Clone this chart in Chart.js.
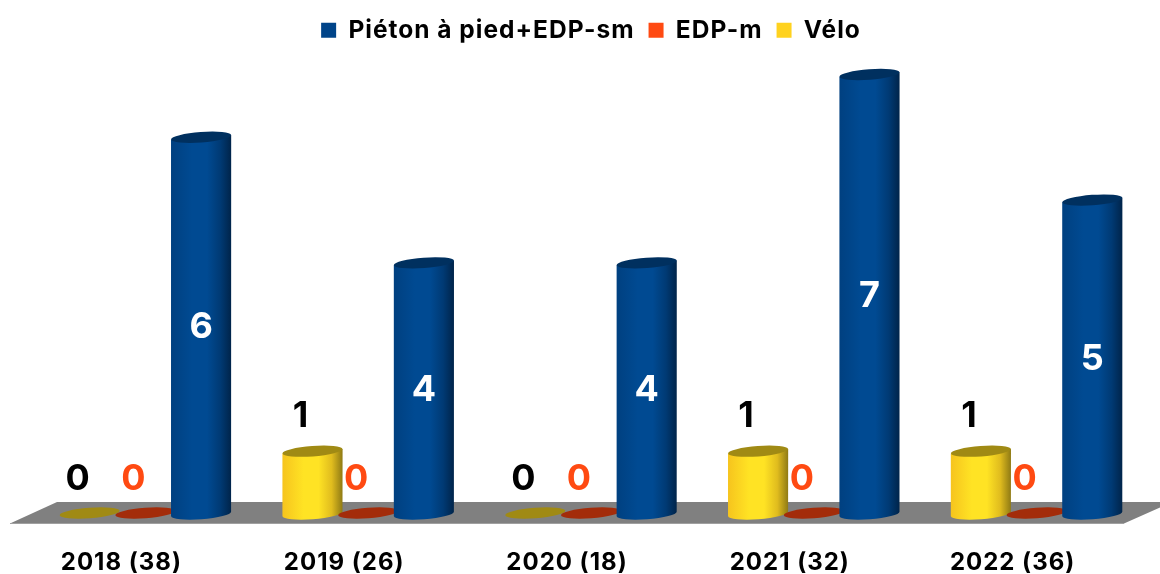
<!DOCTYPE html>
<html><head><meta charset="utf-8">
<script src="https://cdn.jsdelivr.net/npm/chart.js@4"></script>
<style>html,body{margin:0;padding:0;background:#fff;overflow:hidden}#w{position:relative;width:1160px;height:574px}</style>
</head><body><div id="w"><canvas id="c" width="1160" height="574"></canvas></div>
<script>
const categories = ["2018 (38)","2019 (26)","2020 (18)","2021 (32)","2022 (36)"];
const veloValues = [0,1,0,1,1];
const edpmValues = [0,0,0,0,0];
const pietonValues = [6,4,4,7,5];
const FONT = 'Inter, sans-serif';

const palette = [
  {side:['#f6c41e','#ffe324','#ffe324','#e0bc1e','#8f7a14'], top:'#a08a14', label:'#000000'},
  {side:['#e8400f','#ff4a12','#ff4a12','#c93a0d','#7d2508'], top:'#a32c0a', label:'#ff4a12'},
  {side:['#004080','#004a92','#004a92','#003a74','#00244a'], top:'#00305f', label:'#ffffff'}
];
const TILT = -0.075, RY = 5.2;

function ellipse(ctx,x,y,rx,fill){
  ctx.beginPath();ctx.ellipse(x,y,rx,RY,TILT,0,Math.PI*2);ctx.fillStyle=fill;ctx.fill();
}
function cylinder(ctx,el,pal){
  const rx=el.width/2,x=el.x,top=el.y,base=el.base;
  if(base-top<1){ ellipse(ctx,x,base-1,rx,pal.top); return; }
  const g=ctx.createLinearGradient(x-rx,0,x+rx,0);
  [0,0.35,0.6,0.82,1].forEach((s,i)=>g.addColorStop(s,pal.side[i]));
  const dy=rx*Math.tan(TILT);
  ctx.beginPath();
  ctx.moveTo(x-rx,top-dy);
  ctx.lineTo(x-rx,base-dy);
  ctx.ellipse(x,base,rx,RY,TILT,Math.PI,0,true);
  ctx.lineTo(x+rx,top+dy);
  ctx.closePath();
  ctx.fillStyle=g;ctx.fill();
  ellipse(ctx,x,top,rx,pal.top);
}
const cylinders={
  id:'cylinders',
  beforeLayout(chart){ chart.ctx.letterSpacing='1px'; },
  beforeDraw(chart){ chart.ctx.letterSpacing='1px'; },
  beforeDatasetsDraw(chart){
    const {ctx,chartArea:a,scales:{y}}=chart,b=y.getPixelForValue(0);
    ctx.save();
    ctx.beginPath();
    ctx.moveTo(a.left-24,b+9.5);ctx.lineTo(a.left+23,b-12);
    ctx.lineTo(a.right+24,b-12);ctx.lineTo(a.right-24,b+9.5);ctx.closePath();
    ctx.fillStyle='#808080';ctx.fill();
    ctx.fillStyle='#a0a0a0';ctx.fillRect(a.left-24,b+9,a.right-a.left,1);
    chart.data.datasets.forEach((ds,i)=>{
      chart.getDatasetMeta(i).data.forEach(el=>cylinder(ctx,el,palette[i]));
    });
    ctx.restore();
  },
  beforeDatasetDraw(){ return false; },
  afterDatasetsDraw(chart){
    const ctx=chart.ctx;
    ctx.save();
    ctx.letterSpacing='0px';
    ctx.font='bold 36px '+FONT;ctx.textAlign='center';ctx.textBaseline='middle';
    chart.data.datasets.forEach((ds,i)=>{
      ctx.fillStyle=palette[i].label;
      chart.getDatasetMeta(i).data.forEach((el,j)=>{
        if(i===2) ctx.fillText(ds.data[j],el.x,(el.y+el.base)/2+2);
        else ctx.fillText(ds.data[j],el.x-12,el.y-35);
      });
    });
    ctx.restore();
  }
};
new Chart(document.getElementById('c'),{
  type:'bar',
  data:{labels:categories,datasets:[
    {label:'Vélo',data:veloValues,backgroundColor:'#ffd21f'},
    {label:'EDP-m',data:edpmValues,backgroundColor:'#ff4a12'},
    {label:'Piéton à pied+EDP-sm',data:pietonValues,backgroundColor:'#004489'}
  ]},
  plugins:[cylinders],
  options:{
    responsive:false,animation:false,
    categoryPercentage:0.75,barPercentage:1.08,
    layout:{padding:{left:34,right:12,top:4,bottom:0}},
    plugins:{tooltip:{enabled:false},title:{display:false},
      legend:{position:'top',reverse:true,
        labels:{boxWidth:15,boxHeight:15,padding:14,color:'#000',font:{family:FONT,weight:'bold',size:24.5}}}},
    scales:{
      x:{grid:{display:false},border:{display:false},
        afterFit(s){s.height=60;},
        ticks:{color:'#000',font:{family:FONT,weight:'bold',size:24},labelOffset:-24,padding:26,maxRotation:0}},
      y:{display:false,min:0,max:7.35}
    }
  }
});
</script></body></html>
